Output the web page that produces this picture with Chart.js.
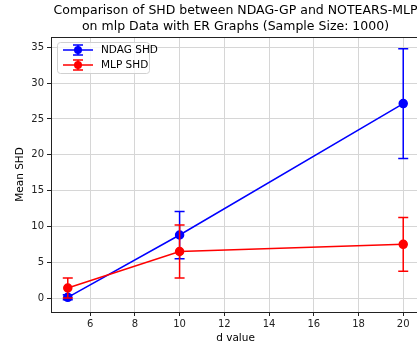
<!DOCTYPE html>
<html>
<head>
<meta charset="utf-8">
<script src="https://cdn.jsdelivr.net/npm/chart.js@4"></script>
<style>
  html, body { margin: 0; padding: 0; background: #fff; }
  #wrap { width: 417px; height: 345px; }
</style>
</head>
<body>
<div id="wrap"><canvas id="shdchart" width="417" height="345"></canvas></div>
<script>
var dValues = [5, 10, 20];
var ndagMean = [0.1, 8.8, 27.15];
var ndagErr = [0.35, 3.3, 7.65];
var mlpMean = [1.4, 6.5, 7.5];
var mlpErr = [1.4, 3.7, 3.75];
var xTicks = [6, 8, 10, 12, 14, 16, 18, 20];
var yTicks = [0, 5, 10, 15, 20, 25, 30, 35];

var titleLines = [
    'Comparison of SHD between NDAG-GP and NOTEARS-MLP',
    'on mlp Data with ER Graphs (Sample Size: 1000)'
];
var font = 'DejaVu Sans';

function points(means) {
    return dValues.map(function (d, i) { return { x: d, y: means[i] }; });
}

// error bars, frame, title and legend, matplotlib style
var extras = {
    id: 'extras',
    afterLayout: function (chart) {
        // the original axes run a few pixels past the right edge of the image
        var xs = chart.scales.x;
        chart.chartArea.right = 420;
        chart.chartArea.width = 420 - chart.chartArea.left;
        xs.right = 420;
        xs.width = 420 - xs.left;
        xs.configure();
    },
    beforeDatasetDraw: function (chart, args) {
        var ctx = chart.ctx;
        var xs = chart.scales.x, ys = chart.scales.y;
        var ds = chart.data.datasets[args.index];
        var errs = ds.errors;
        ctx.save();
        ctx.strokeStyle = ds.borderColor;
        ctx.lineWidth = 1.5;
        ds.data.forEach(function (p, i) {
            var px = xs.getPixelForValue(p.x);
            var top = ys.getPixelForValue(p.y + errs[i]);
            var bot = ys.getPixelForValue(p.y - errs[i]);
            ctx.beginPath();
            ctx.moveTo(px, top); ctx.lineTo(px, bot);
            ctx.moveTo(px - 5, top); ctx.lineTo(px + 5, top);
            ctx.moveTo(px - 5, bot); ctx.lineTo(px + 5, bot);
            ctx.stroke();
        });
        ctx.restore();
    },
    afterDraw: function (chart) {
        var ctx = chart.ctx;
        var a = chart.chartArea;
        ctx.save();
        ctx.strokeStyle = '#222';
        ctx.lineWidth = 1;
        ctx.strokeRect(a.left + 0.5, a.top + 0.5, a.right - a.left - 1, a.bottom - a.top);

        ctx.fillStyle = '#000';
        ctx.font = '12.5px "' + font + '"';
        ctx.textAlign = 'center';
        ctx.textBaseline = 'middle';
        var cx = (a.left + a.right) / 2;
        ctx.fillText(titleLines[0], cx, 11);
        ctx.fillText(titleLines[1], cx, 27);

        // legend
        var lx = 57, ly = 42, lw = 92, lh = 31;
        ctx.fillStyle = 'rgba(255,255,255,0.8)';
        ctx.strokeStyle = '#d0d0d0';
        ctx.beginPath();
        ctx.roundRect(lx + 0.5, ly + 0.5, lw, lh, 3);
        ctx.fill();
        ctx.stroke();
        ctx.font = '10.5px "' + font + '"';
        ctx.textAlign = 'left';
        chart.data.datasets.forEach(function (ds, i) {
            var yy = ly + 8 + i * 15;
            var x0 = lx + 6, x1 = lx + 36, xm = (x0 + x1) / 2;
            ctx.strokeStyle = ds.borderColor;
            ctx.lineWidth = 1.5;
            ctx.beginPath();
            ctx.moveTo(x0, yy); ctx.lineTo(x1, yy);
            ctx.moveTo(xm, yy - 5); ctx.lineTo(xm, yy + 5);
            ctx.moveTo(xm - 5, yy - 5); ctx.lineTo(xm + 5, yy - 5);
            ctx.moveTo(xm - 5, yy + 5); ctx.lineTo(xm + 5, yy + 5);
            ctx.stroke();
            ctx.fillStyle = ds.borderColor;
            ctx.beginPath();
            ctx.arc(xm, yy, 4, 0, Math.PI * 2);
            ctx.fill();
            ctx.fillStyle = '#000';
            ctx.fillText(ds.label, lx + 44, yy);
        });
        ctx.restore();
    }
};

var ctx = document.getElementById('shdchart').getContext('2d');

var shdchart = new Chart(ctx, {
    type: 'scatter',
    data: {
        datasets: [{
            label: 'NDAG SHD',
            data: points(ndagMean),
            errors: ndagErr,
            showLine: true,
            borderColor: '#0000ff',
            backgroundColor: '#0000ff',
            borderWidth: 1.5,
            pointRadius: 4,
            pointHoverRadius: 4,
            order: 2
        }, {
            label: 'MLP SHD',
            data: points(mlpMean),
            errors: mlpErr,
            showLine: true,
            borderColor: '#ff0000',
            backgroundColor: '#ff0000',
            borderWidth: 1.5,
            pointRadius: 4,
            pointHoverRadius: 4,
            order: 1
        }]
    },
    options: {
        responsive: false,
        animation: false,
        layout: { padding: { top: 37, left: 0, right: 0, bottom: 0 } },
        plugins: {
            legend: { display: false },
            title: { display: false },
            tooltip: { enabled: false }
        },
        scales: {
            x: {
                type: 'linear',
                min: 4.25,
                max: 20.75,
                afterBuildTicks: function (s) { s.ticks = xTicks.map(function (v) { return { value: v }; }); },
                afterFit: function (s) { s.height = 33; },
                ticks: { color: '#222', font: { family: font, size: 10 }, padding: 2, maxRotation: 0 },
                grid: { color: '#d6d6d6', tickColor: '#222', tickLength: 4 },
                border: { display: false },
                title: { display: true, text: 'd value', color: '#000', font: { family: font, size: 10.5 }, padding: { top: 0, bottom: 0 } }
            },
            y: {
                min: -1.95,
                max: 36.45,
                afterBuildTicks: function (s) { s.ticks = yTicks.map(function (v) { return { value: v }; }); },
                afterFit: function (s) { s.width = 51; },
                ticks: { color: '#222', font: { family: font, size: 10 }, padding: 3 },
                grid: { color: '#d6d6d6', tickColor: '#222', tickLength: 4 },
                border: { display: false },
                title: { display: true, text: 'Mean SHD', color: '#000', font: { family: font, size: 10.5 }, padding: { top: 14, bottom: 0 } }
            }
        }
    },
    plugins: [extras]
});
</script>
</body>
</html>
